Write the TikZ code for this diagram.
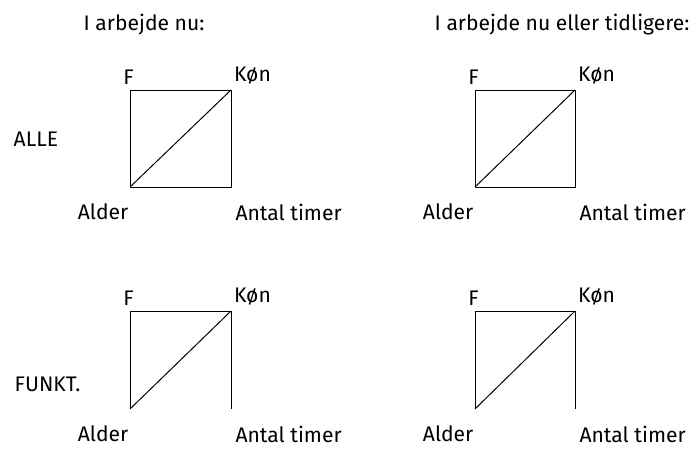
\documentclass[tikz,border=0pt]{standalone}
\usepackage{fontspec}
\setmainfont{Fira Sans}
\usetikzlibrary{positioning}
\tikzset{
  lab/.style={font=\fontsize{15}{18}\selectfont, inner sep=1pt},
  side/.style={line width=0.7pt, line join=round},
}

\begin{document}
\begin{tikzpicture}
  \useasboundingbox (0,0) rectangle (17.475,11.225);
  % overskrifter
  \node[lab, anchor=base west] (tnu) at (2.05,10.45) {I arbejde nu:};
  \node[lab, anchor=base west] (ttid) at (10.825,10.45) {I arbejde nu eller tidligere:};
  \node[lab, anchor=base west] (alle) at (0.3,7.55) {ALLE};
  \node[lab, anchor=base west] (funkt) at (0.325,1.45) {FUNKT.};

  % hjoerner
  \coordinate (aF) at (3.25,8.975);  \coordinate (aK) at (5.775,8.975);
  \coordinate (aA) at (3.25,6.55);   \coordinate (aT) at (5.775,6.55);
  \coordinate (bF) at (11.875,8.975); \coordinate (bK) at (14.375,8.975);
  \coordinate (bA) at (11.875,6.55);  \coordinate (bT) at (14.375,6.55);
  \coordinate (cF) at (3.25,3.45);  \coordinate (cK) at (5.775,3.45);
  \coordinate (cA) at (3.25,1.0);  \coordinate (cT) at (5.775,1.0);
  \coordinate (dF) at (11.875,3.45); \coordinate (dK) at (14.375,3.45);
  \coordinate (dA) at (11.875,1.0); \coordinate (dT) at (14.375,1.0);

  % ALLE
  \draw[side] (aA) -- (aF) -- (aK) -- (aT) -- cycle;
  \draw[side] (aA) -- (aK);
  \draw[side] (bA) -- (bF) -- (bK) -- (bT) -- cycle;
  \draw[side] (bA) -- (bK);
  % FUNKT.
  \draw[side] (cA) -- (cF) -- (cK) -- (cT);
  \draw[side] (cA) -- (cK);
  \draw[side] (dA) -- (dF) -- (dK) -- (dT);
  \draw[side] (dA) -- (dK);

  % variabler
  \foreach \p in {a,b,c,d} {
    \node[lab, above=3pt of \p F, xshift=-1pt] (\p Fl) {F};
    \node[lab, above right=3pt and 1pt of \p K] (\p Kl) {Køn};
    \node[lab, below left=11pt and 0pt of \p A] (\p Al) {Alder};
    \node[lab, below right=11pt and 2pt of \p T] (\p Tl) {Antal timer};
  }
\end{tikzpicture}
\end{document}
